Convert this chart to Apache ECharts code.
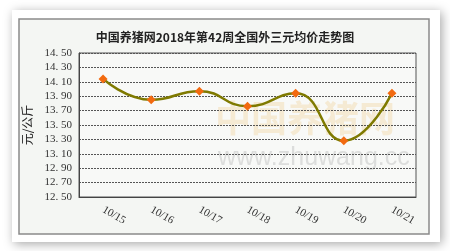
<!DOCTYPE html>
<html><head><meta charset="utf-8">
<script src="https://cdn.jsdelivr.net/npm/echarts@6/dist/echarts.min.js"></script>
<style>html,body{margin:0;padding:0;background:#fff}#c{width:450px;height:251px}</style>
</head><body><div id="c"></div>
<script>
var categories = ['10/15','10/16','10/17','10/18','10/19','10/20','10/21'];
var prices = [14.14, 13.85, 13.97, 13.76, 13.94, 13.28, 13.94];
var titleText = '中国养猪网2018年第42周全国外三元均价走势图';
var yName = '元/公斤';

var chart = echarts.init(document.getElementById('c'), null, {renderer:'canvas'});
chart.setOption({
  backgroundColor: '#ffffff',
  animation: false,
  graphic: [
    {type:'rect', z:-10, shape:{x:12,y:10,width:428,height:232}, style:{fill:'#ffffff', shadowBlur:10, shadowColor:'rgba(0,0,0,0.35)', shadowOffsetX:2, shadowOffsetY:2}},
    {type:'rect', z:-9, shape:{x:19,y:19,width:410,height:215}, style:{fill:'#f4f6f3', stroke:'#8a8a8a', lineWidth:1.5}},
    {type:'rect', z:-8, shape:{x:79,y:53,width:337,height:144}, style:{fill:'#f8f9f7'}},
    {type:'text', z:-7, x:218, y:146, style:{text:'www.zhuwang.cc', fill:'rgba(170,170,170,0.35)', font:'25px "Liberation Sans"'}},
    {type:'text', z:-7, x:215, y:100, style:{text:'中国养猪网', fill:'rgba(240,200,130,0.3)', font:'bold 36px "Noto Sans CJK SC"'}}
  ],
  title: {
    text: titleText, left: 'center', top: 26,
    textStyle: {fontFamily:'"Noto Sans CJK SC"', fontWeight:'bold', fontSize:12, color:'#222'}
  },
  grid: {left:79, right:34, top:53, bottom:54, show:true, backgroundColor:'transparent', borderColor:'#555', borderWidth:1},
  xAxis: {
    type:'category', data:categories, boundaryGap:true,
    axisLine:{lineStyle:{color:'#444', width:1}},
    axisTick:{inside:true, length:4, lineStyle:{color:'#444'}},
    axisLabel:{rotate:-30, margin:12, fontSize:11, color:'#333', fontFamily:'Liberation Serif'}
  },
  yAxis: {
    type:'value', min:12.5, max:14.5, interval:0.2,
    name: yName, nameLocation:'middle', nameGap:36, nameRotate:90,
    nameTextStyle:{fontFamily:'"Noto Sans CJK SC"', fontSize:12, color:'#222'},
    axisLine:{show:true, lineStyle:{color:'#444'}},
    axisTick:{show:false},
    axisLabel:{fontSize:11, color:'#333', margin:7, fontFamily:'Liberation Serif', formatter:function(v){return v.toFixed(2).replace('.', '. ');}},
    splitLine:{lineStyle:{color:'#555', type:[2,1], width:1}}
  },
  series: [{
    type:'line', data:prices, smooth:0.5,
    lineStyle:{color:'#7f7a00', width:2.5},
    symbol:'diamond', symbolSize:9,
    itemStyle:{color:'#f26a10', borderWidth:0}
  }]
});
</script></body></html>
